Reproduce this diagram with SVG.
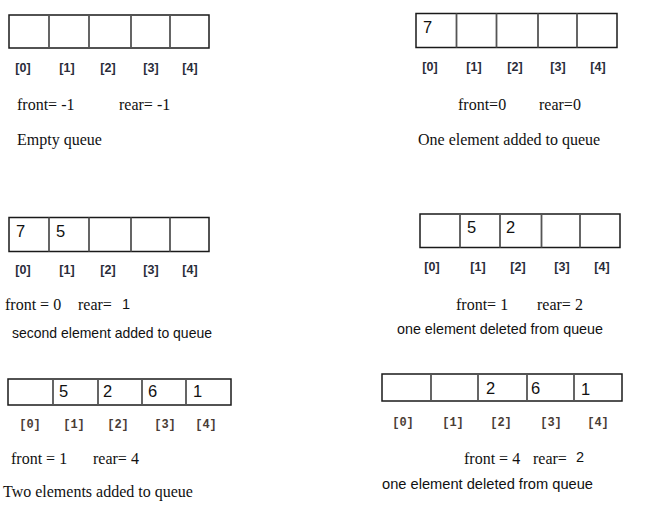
<svg xmlns="http://www.w3.org/2000/svg" width="647" height="517" viewBox="0 0 647 517">
<style>
.box{fill:#fff;stroke:#1a1a1a;stroke-width:1.5}
.div{stroke:#555;stroke-width:1.8}
.num{font-family:"Liberation Sans",Arial,sans-serif;font-size:16.5px;fill:#111}
.idx{font-family:"Liberation Sans",Arial,sans-serif;font-size:12.5px;font-weight:bold;fill:#2a2c3a;text-anchor:middle}
.idx2{font-family:"Liberation Mono","Courier New",monospace;font-size:12px;font-weight:bold;fill:#4a3d36;text-anchor:middle}
.ser{font-family:"Liberation Serif","Times New Roman",serif;font-size:16px;fill:#111}
.sans{font-family:"Liberation Sans",Arial,sans-serif;font-size:14.5px;fill:#111}
</style>
<rect width="647" height="517" fill="#fff"/>

<g id="panel1">
<rect class="box" x="9" y="15" width="200" height="33"/>
<line class="div" x1="49" y1="15" x2="49" y2="48"/>
<line class="div" x1="89" y1="15" x2="89" y2="48"/>
<line class="div" x1="131" y1="15" x2="131" y2="48"/>
<line class="div" x1="170" y1="15" x2="170" y2="48"/>
<text class="idx" x="23" y="72">[0]</text>
<text class="idx" x="67" y="72">[1]</text>
<text class="idx" x="108" y="72">[2]</text>
<text class="idx" x="151" y="72">[3]</text>
<text class="idx" x="190" y="72">[4]</text>
<text class="ser" x="17" y="110">front= -1</text>
<text class="ser" x="119" y="110">rear= -1</text>
<text class="ser" x="17" y="145">Empty queue</text>
</g>

<g id="panel2">
<rect class="box" x="416" y="13.5" width="201" height="34"/>
<line class="div" x1="456.5" y1="13.5" x2="456.5" y2="47.5"/>
<line class="div" x1="496.5" y1="13.5" x2="496.5" y2="47.5"/>
<line class="div" x1="538" y1="13.5" x2="538" y2="47.5"/>
<line class="div" x1="577" y1="13.5" x2="577" y2="47.5"/>
<text class="num" x="423" y="32.5">7</text>
<text class="idx" x="430" y="71">[0]</text>
<text class="idx" x="474" y="71">[1]</text>
<text class="idx" x="515" y="71">[2]</text>
<text class="idx" x="558" y="71">[3]</text>
<text class="idx" x="598" y="71">[4]</text>
<text class="ser" x="458" y="110">front=0</text>
<text class="ser" x="539" y="110">rear=0</text>
<text class="ser" x="418" y="145">One element added to queue</text>
</g>

<g id="panel3">
<rect class="box" x="9" y="217.5" width="200" height="34"/>
<line class="div" x1="49" y1="217.5" x2="49" y2="251.5"/>
<line class="div" x1="89" y1="217.5" x2="89" y2="251.5"/>
<line class="div" x1="131" y1="217.5" x2="131" y2="251.5"/>
<line class="div" x1="170" y1="217.5" x2="170" y2="251.5"/>
<text class="num" x="16" y="236.5">7</text>
<text class="num" x="56" y="236.5">5</text>
<text class="idx" x="23" y="274">[0]</text>
<text class="idx" x="67" y="274">[1]</text>
<text class="idx" x="108" y="274">[2]</text>
<text class="idx" x="151" y="274">[3]</text>
<text class="idx" x="190" y="274">[4]</text>
<text class="ser" x="5" y="310">front = 0</text>
<text class="ser" x="78" y="310">rear=</text>
<text class="sans" x="122" y="309">1</text>
<text class="sans" x="12" y="338" textLength="200" lengthAdjust="spacingAndGlyphs">second element added to queue</text>
</g>

<g id="panel4">
<rect class="box" x="420" y="214" width="200" height="33.5"/>
<line class="div" x1="460" y1="214" x2="460" y2="247.5"/>
<line class="div" x1="500" y1="214" x2="500" y2="247.5"/>
<line class="div" x1="541.5" y1="214" x2="541.5" y2="247.5"/>
<line class="div" x1="580" y1="214" x2="580" y2="247.5"/>
<text class="num" x="467" y="232.5">5</text>
<text class="num" x="506" y="232.5">2</text>
<text class="idx" x="432" y="271">[0]</text>
<text class="idx" x="478" y="271">[1]</text>
<text class="idx" x="518" y="271">[2]</text>
<text class="idx" x="562" y="271">[3]</text>
<text class="idx" x="602" y="271">[4]</text>
<text class="ser" x="456" y="310">front= 1</text>
<text class="ser" x="537" y="310">rear= 2</text>
<text class="sans" x="397" y="334" textLength="206" lengthAdjust="spacingAndGlyphs">one element deleted from queue</text>
</g>

<g id="panel5">
<rect class="box" x="8" y="379" width="223" height="26"/>
<line class="div" x1="53" y1="379" x2="53" y2="405"/>
<line class="div" x1="98" y1="379" x2="98" y2="405"/>
<line class="div" x1="142" y1="379" x2="142" y2="405"/>
<line class="div" x1="186" y1="379" x2="186" y2="405"/>
<text class="num" x="59" y="397">5</text>
<text class="num" x="103" y="397">2</text>
<text class="num" x="148" y="397">6</text>
<text class="num" x="193" y="397">1</text>
<text class="idx2" x="30" y="428">[0]</text>
<text class="idx2" x="74" y="428">[1]</text>
<text class="idx2" x="118" y="428">[2]</text>
<text class="idx2" x="165" y="428">[3]</text>
<text class="idx2" x="206" y="428">[4]</text>
<text class="ser" x="11" y="464">front = 1</text>
<text class="ser" x="93" y="464">rear= 4</text>
<text class="ser" x="3" y="497">Two elements added to queue</text>
</g>

<g id="panel6">
<rect class="box" x="382" y="374" width="240" height="27"/>
<line class="div" x1="431" y1="374" x2="431" y2="401"/>
<line class="div" x1="478" y1="374" x2="478" y2="401"/>
<line class="div" x1="527" y1="374" x2="527" y2="401"/>
<line class="div" x1="574" y1="374" x2="574" y2="401"/>
<text class="num" x="486" y="393.5">2</text>
<text class="num" x="531" y="393.5">6</text>
<text class="num" x="581" y="394.5">1</text>
<text class="idx2" x="403" y="426">[0]</text>
<text class="idx2" x="453" y="426">[1]</text>
<text class="idx2" x="501" y="426">[2]</text>
<text class="idx2" x="551" y="426">[3]</text>
<text class="idx2" x="598" y="426">[4]</text>
<text class="ser" x="464" y="464">front = 4</text>
<text class="ser" x="533" y="464">rear=</text>
<text class="sans" x="576" y="462">2</text>
<text class="sans" x="382" y="489" textLength="211" lengthAdjust="spacingAndGlyphs">one element deleted from queue</text>
</g>
</svg>
